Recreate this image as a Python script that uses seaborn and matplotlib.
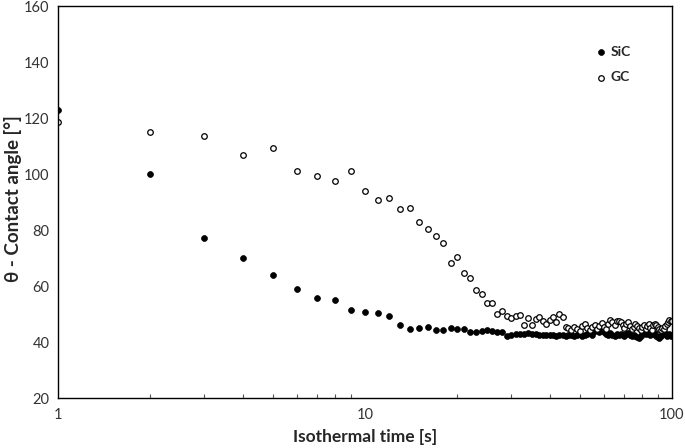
import numpy as np
import pandas as pd
import matplotlib
matplotlib.use("Agg")
import matplotlib.pyplot as plt
import seaborn as sns

# isothermal time [s], one reading per second
time_s = list(range(1, 101))

# contact angle of SiC [deg]
sic = [123, 100, 77.2, 70, 63.8, 59, 55.7, 55, 51.5, 50.7,
       50.4, 49.4, 46.2, 44.6, 45, 45.2, 44.4, 44.4, 44.9, 44.6,
       44.6, 43.6, 43.6, 43.9, 44.3, 43.9, 43.5, 43.7, 42.0, 42.6,
       42.8, 42.7, 43.0, 43.2, 43.0, 42.7, 42.5, 42.6, 42.4, 42.4,
       42.5, 42.3, 42.4, 42.6, 42.3, 42.6, 42.4, 42.2, 42.5, 42.7,
       42.3, 42.6, 42.8, 43.4, 42.6, 43.8, 44.2, 43.6, 44.6, 43.4,
       42.8, 42.5, 43.2, 42.6, 42.3, 42.7, 42.4, 42.9, 42.6, 42.2,
       42.8, 43.1, 42.5, 42.2, 42.6, 42.3, 41.9, 41.5, 42.0, 42.8,
       43.2, 42.7, 43.5, 42.9, 42.4, 43.0, 43.6, 42.8, 42.2, 41.8,
       41.6, 42.3, 43.0, 43.4, 42.7, 42.1, 42.5, 42.8, 42.3, 42.6]

# contact angle of GC [deg]
gc = [118.5, 115, 113.5, 106.7, 109.3, 101, 99.2, 97.5, 101, 93.8,
      90.6, 91.3, 87.4, 88, 82.9, 80.2, 77.7, 75.4, 68.3, 70.2,
      64.8, 62.9, 58.5, 57, 53.8, 53.9, 49.9, 51, 49.4, 48.5,
      49.4, 49.6, 46.2, 48.7, 46.2, 48.2, 48.8, 47.4, 46.4, 47.7,
      48.8, 47.0, 50, 49, 45.2, 44.9, 44.3, 45.2, 44.6, 44.0,
      45.6, 46.6, 45.1, 44.4, 45.3, 46.2, 44.8, 45.7, 46.8, 45.5,
      44.7, 46.3, 47.8, 47.0, 46.0, 47.5, 47.6, 47.0, 46.2, 45.0,
      46.5, 47.3, 45.6, 44.7, 45.4, 46.3, 45.8, 44.9, 44.4, 45.2,
      46.0, 44.8, 45.6, 46.4, 45.1, 44.3, 45.9, 46.4, 46.0, 45.2,
      44.6, 44.2, 45.0, 44.6, 45.8, 46.5, 47.2, 47.8, 47.6, 47.4]

x_ticks = [1, 10, 100]
x_tick_labels = ["1", "10", "100"]
y_ticks = [20, 40, 60, 80, 100, 120, 140, 160]

df = pd.DataFrame({"t": time_s, "SiC": sic, "GC": gc})

sns.set_theme(style="white")
plt.rcParams["font.family"] = ["Lato", "DejaVu Sans"]

fig = plt.figure(figsize=(6.85, 4.48), dpi=100)
ax = fig.add_axes([0.0847, 0.1116, 0.8963, 0.875])

sns.scatterplot(data=df, x="t", y="SiC", ax=ax, color="black", edgecolor="black",
                s=18, linewidth=0.5, label="SiC")
sns.scatterplot(data=df, x="t", y="GC", ax=ax, color="white", edgecolor="black",
                s=16, linewidth=0.9, label="GC")

ax.set_xscale("log")
ax.set_xlim(1, 100)
ax.set_ylim(20, 160)
ax.set_xticks(x_ticks)
ax.set_xticklabels(x_tick_labels)
ax.set_yticks(y_ticks)

for sp in ax.spines.values():
    sp.set_color("black")
    sp.set_linewidth(1.0)

ax.tick_params(axis="x", which="major", direction="in", length=4, width=0.8,
               color="#555555", labelsize=10.5, labelcolor="#333333", pad=7)
ax.tick_params(axis="x", which="minor", direction="in", length=3, width=0.8,
               color="#555555", bottom=True)
ax.tick_params(axis="y", which="both", length=0, labelsize=10.5,
               labelcolor="#333333", pad=6)
ax.tick_params(axis="x", which="both", top=False)

ax.set_xlabel("Isothermal time [s]", fontsize=12.5, fontweight="bold")
ax.set_ylabel("θ - Contact angle [°]", fontsize=13.5, fontweight="bold")
ax.xaxis.set_label_coords(0.5, -0.08)
ax.yaxis.set_label_coords(-0.058, 0.508)

leg = ax.legend(loc="upper left", bbox_to_anchor=(0.868, 0.912), frameon=False,
                fontsize=10, handletextpad=0.4, labelspacing=0.95,
                handlelength=0.6, borderaxespad=0)
for t in leg.get_texts():
    t.set_fontweight("bold")

fig.savefig("out.png", dpi=100)
